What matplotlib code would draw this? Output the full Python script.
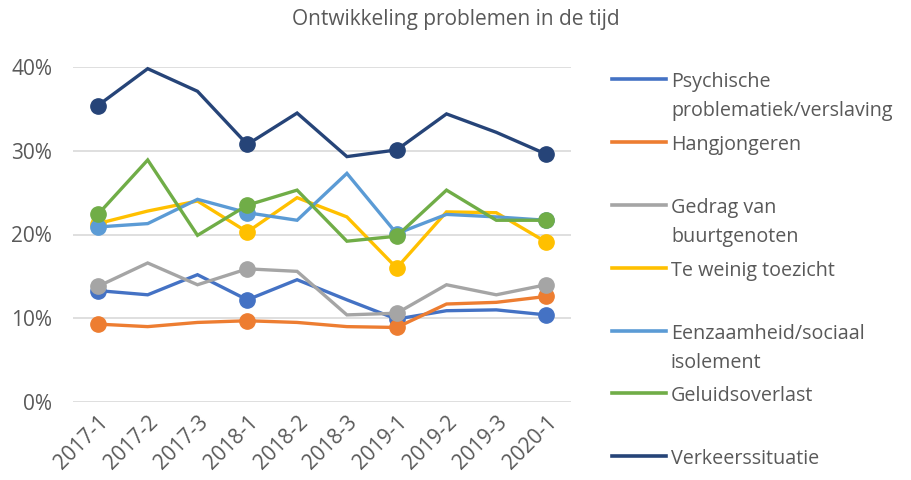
import matplotlib
matplotlib.use('Agg')
import matplotlib.pyplot as plt
from matplotlib.lines import Line2D

plt.rcParams['font.family'] = ['Open Sans', 'DejaVu Sans']

periods = ['2017-1', '2017-2', '2017-3', '2018-1', '2018-2', '2018-3',
           '2019-1', '2019-2', '2019-3', '2020-1']

# percentages
psychisch = [13.3, 12.8, 15.2, 12.2, 14.6, 12.2, 9.9, 10.9, 11.0, 10.4]
hangjongeren = [9.3, 9.0, 9.5, 9.7, 9.5, 9.0, 8.9, 11.7, 11.9, 12.6]
buurtgenoten = [13.8, 16.6, 14.0, 15.9, 15.6, 10.4, 10.6, 14.0, 12.8, 14.0]
toezicht = [21.3, 22.8, 24.0, 20.3, 24.4, 22.1, 16.0, 22.7, 22.6, 19.1]
eenzaamheid = [20.9, 21.3, 24.2, 22.6, 21.7, 27.3, 20.1, 22.4, 22.1, 21.7]
geluid = [22.4, 28.9, 19.9, 23.5, 25.3, 19.2, 19.8, 25.3, 21.7, 21.7]
verkeer = [35.4, 39.8, 37.1, 30.75, 34.5, 29.3, 30.1, 34.4, 32.2, 29.6]

series = [
    ('Psychische\nproblematiek/verslaving', psychisch, '#4472C4'),
    ('Hangjongeren', hangjongeren, '#ED7D31'),
    ('Gedrag van\nbuurtgenoten', buurtgenoten, '#A5A5A5'),
    ('Te weinig toezicht', toezicht, '#FFC000'),
    ('Eenzaamheid/sociaal\nisolement', eenzaamheid, '#5B9BD5'),
    ('Geluidsoverlast', geluid, '#70AD47'),
    ('Verkeerssituatie', verkeer, '#264478'),
]

marker_idx = [0, 3, 6, 9]
text_col = '#595959'

W, H = 912, 480
fig = plt.figure(figsize=(W / 100, H / 100), dpi=100)
ax = fig.add_axes([73 / W, 1 - 402 / H, 498 / W, 335 / H])

x = list(range(len(periods)))
for name, vals, col in series:
    ax.plot(x, vals, color=col, lw=2.4, marker='o', markersize=11,
            markevery=marker_idx, solid_joinstyle='miter', clip_on=False)

ax.set_xlim(-0.5, len(periods) - 0.5)
ax.set_ylim(0, 40)
ax.set_yticks([0, 10, 20, 30, 40])
ax.set_yticklabels([f'{v}%' for v in [0, 10, 20, 30, 40]])
ax.set_xticks(x)
ax.set_xticklabels(periods, rotation=45, ha='right', rotation_mode='anchor')
ax.tick_params(length=0, labelsize=15, colors=text_col)
ax.tick_params(axis='y', pad=15)
ax.tick_params(axis='x', pad=7)
ax.yaxis.grid(True, color='#D9D9D9', lw=1.2)
ax.set_axisbelow(True)
for s in ax.spines.values():
    s.set_visible(False)

fig.text(0.5, 1 - 20 / H, 'Ontwikkeling problemen in de tijd', ha='center',
         va='center', fontsize=15, color=text_col)

# legend drawn by hand, one text per label line
leg_y = [79, 142, 205, 268, 331, 393, 456]
for (name, vals, col), yy in zip(series, leg_y):
    fy = 1 - yy / H
    fig.add_artist(Line2D([612 / W, 666 / W], [fy, fy], color=col, lw=2.6,
                          transform=fig.transFigure))
    for i, part in enumerate(name.split('\n')):
        fig.text(671 / W, 1 - (yy + 8 + 29 * i) / H, part, ha='left',
                 va='baseline', fontsize=14.2, color=text_col)

fig.savefig('out.png', dpi=100)
